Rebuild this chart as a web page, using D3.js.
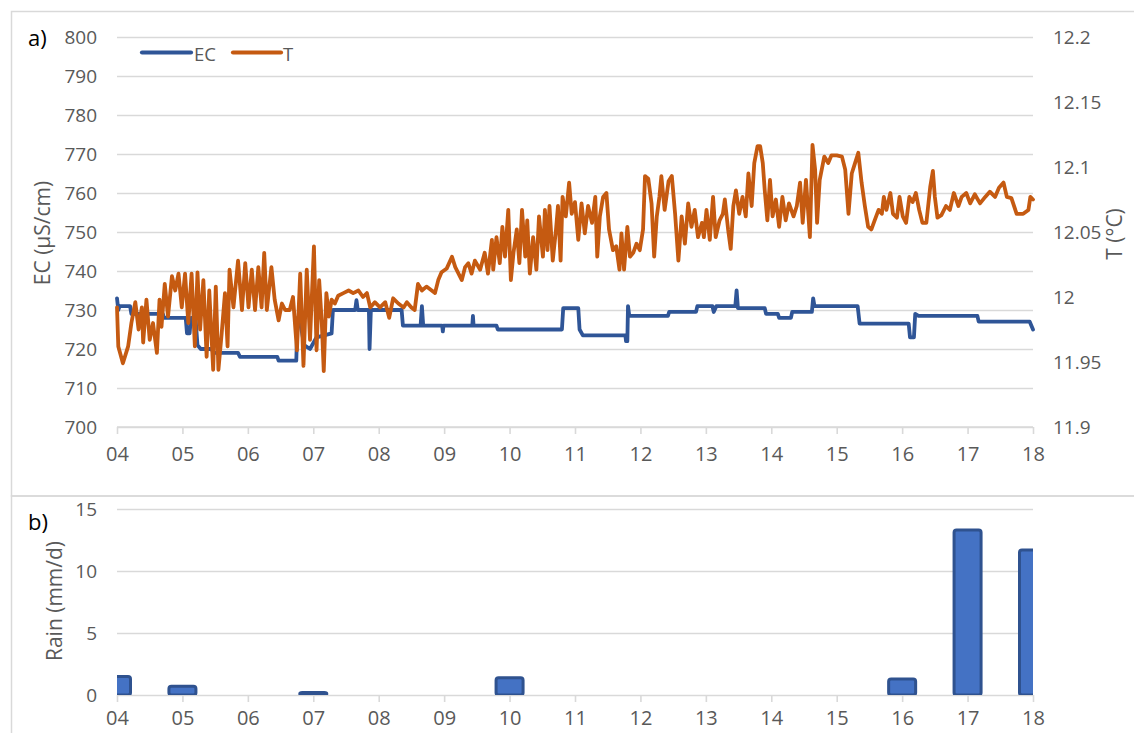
<!DOCTYPE html>
<html><head><meta charset="utf-8">
<script src="https://cdn.jsdelivr.net/npm/d3@7"></script>
<style>body{margin:0;background:#fff}svg{display:block}text{font-family:"Open Sans",sans-serif}</style>
</head><body><svg id="c" width="1134" height="733"></svg>
<script>
const dayTicks = [4,5,6,7,8,9,10,11,12,13,14,15,16,17,18];
const dayTickLabels = ["04","05","06","07","08","09","10","11","12","13","14","15","16","17","18"];
const ecTicks = [700,710,720,730,740,750,760,770,780,790,800];
const tTicks = [11.9,11.95,12,12.05,12.1,12.15,12.2];
const tTickLabels = ["11.9","11.95","12","12.05","12.1","12.15","12.2"];
const rainTicks = [0,5,10,15];

const ecSeries = [[4.00,733],[4.02,730],[4.04,731],[4.20,731],[4.22,729],[4.70,729],[4.72,728],[5.05,728],[5.07,724],[5.11,724],[5.13,728],[5.20,728],[5.23,721],[5.28,720],[5.45,720],[5.47,719],[5.85,719],[5.88,718],[6.45,718],[6.47,717],[6.74,717],[6.76,728],[6.80,727],[6.86,721],[6.95,720],[7.05,723],[7.28,724],[7.30,730],[7.64,730],[7.66,732.5],[7.68,730],[7.85,730],[7.86,720],[7.88,730],[8.35,730],[8.37,726],[8.64,726],[8.66,731],[8.68,726],[8.97,726],[8.98,724.5],[8.99,726],[9.43,726],[9.44,728.5],[9.45,726],[9.80,726],[9.82,725],[10.80,725],[10.82,730.5],[11.05,730.5],[11.07,725],[11.12,723.5],[11.77,723.5],[11.78,722],[11.80,722],[11.81,731],[11.83,728.5],[12.42,728.5],[12.44,729.5],[12.85,729.5],[12.87,731],[13.10,731],[13.12,729.5],[13.16,731],[13.45,731],[13.47,735],[13.49,730.5],[13.90,730.5],[13.92,729],[14.10,729],[14.12,728],[14.30,728],[14.32,729.5],[14.62,729.5],[14.64,733],[14.66,731],[15.32,731],[15.35,726.5],[16.10,726.5],[16.12,723],[16.18,723],[16.20,729],[16.25,728.5],[17.15,728.5],[17.17,727],[17.95,727],[18.00,725]];

const tSeries = [[4.00,11.992],[4.02,11.962],[4.09,11.949],[4.17,11.962],[4.22,11.980],[4.28,11.996],[4.33,11.975],[4.38,11.992],[4.40,11.965],[4.45,11.998],[4.50,11.967],[4.55,11.980],[4.61,11.957],[4.65,11.998],[4.68,11.977],[4.73,12.010],[4.78,11.985],[4.84,12.016],[4.89,12.005],[4.94,12.018],[4.99,11.992],[5.04,12.018],[5.09,11.980],[5.14,12.018],[5.19,11.962],[5.23,12.019],[5.27,11.975],[5.32,12.013],[5.37,11.954],[5.41,12.005],[5.47,11.944],[5.51,12.008],[5.55,11.944],[5.60,11.972],[5.65,12.003],[5.69,11.962],[5.72,12.021],[5.78,11.992],[5.85,12.028],[5.91,11.990],[5.96,12.026],[6.01,11.992],[6.06,12.021],[6.11,11.990],[6.16,12.023],[6.21,11.992],[6.25,12.034],[6.29,11.990],[6.36,12.023],[6.41,11.998],[6.47,11.982],[6.52,11.995],[6.57,11.990],[6.64,11.990],[6.69,12.000],[6.75,11.959],[6.80,12.018],[6.85,11.947],[6.90,12.021],[6.95,11.967],[7.01,12.039],[7.05,11.959],[7.09,12.013],[7.13,11.980],[7.16,11.943],[7.20,12.003],[7.24,11.985],[7.28,11.998],[7.33,11.995],[7.38,12.001],[7.46,12.003],[7.54,12.005],[7.61,12.003],[7.69,12.005],[7.76,12.000],[7.82,12.003],[7.87,11.992],[7.94,11.996],[8.02,11.992],[8.10,11.996],[8.16,11.984],[8.22,11.999],[8.30,11.995],[8.38,11.992],[8.43,11.996],[8.50,11.992],[8.55,11.990],[8.60,12.010],[8.66,12.005],[8.73,12.008],[8.81,12.005],[8.86,12.003],[8.91,12.013],[8.96,12.019],[9.04,12.022],[9.12,12.031],[9.17,12.023],[9.22,12.018],[9.27,12.013],[9.32,12.023],[9.37,12.026],[9.42,12.018],[9.47,12.028],[9.55,12.021],[9.62,12.034],[9.67,12.018],[9.73,12.044],[9.75,12.021],[9.80,12.046],[9.85,12.026],[9.89,12.054],[9.93,12.031],[9.98,12.067],[10.02,12.013],[10.06,12.034],[10.11,12.052],[10.15,12.026],[10.19,12.067],[10.24,12.031],[10.27,12.059],[10.31,12.018],[10.36,12.046],[10.41,12.021],[10.45,12.062],[10.51,12.031],[10.54,12.067],[10.58,12.036],[10.61,12.070],[10.66,12.028],[10.71,12.052],[10.74,12.070],[10.78,12.028],[10.81,12.077],[10.86,12.062],[10.91,12.088],[10.95,12.064],[11.00,12.073],[11.05,12.044],[11.10,12.072],[11.15,12.049],[11.20,12.070],[11.26,12.057],[11.31,12.077],[11.34,12.031],[11.38,12.062],[11.43,12.077],[11.48,12.080],[11.52,12.052],[11.58,12.036],[11.63,12.039],[11.68,12.021],[11.71,12.049],[11.75,12.021],[11.80,12.054],[11.84,12.031],[11.89,12.034],[11.94,12.041],[11.99,12.036],[12.04,12.052],[12.07,12.093],[12.12,12.091],[12.17,12.072],[12.21,12.031],[12.25,12.062],[12.29,12.077],[12.32,12.093],[12.37,12.067],[12.43,12.089],[12.48,12.093],[12.53,12.064],[12.58,12.028],[12.63,12.062],[12.68,12.041],[12.73,12.072],[12.78,12.054],[12.83,12.067],[12.88,12.046],[12.94,12.057],[12.97,12.046],[13.01,12.067],[13.06,12.044],[13.11,12.077],[13.15,12.046],[13.21,12.059],[13.26,12.064],[13.29,12.075],[13.34,12.052],[13.38,12.037],[13.42,12.070],[13.46,12.082],[13.51,12.064],[13.56,12.077],[13.61,12.062],[13.65,12.095],[13.70,12.070],[13.74,12.103],[13.79,12.116],[13.83,12.116],[13.87,12.103],[13.90,12.082],[13.94,12.059],[13.98,12.090],[14.02,12.062],[14.07,12.075],[14.12,12.054],[14.17,12.077],[14.22,12.059],[14.27,12.072],[14.34,12.062],[14.39,12.070],[14.44,12.088],[14.48,12.057],[14.53,12.090],[14.59,12.046],[14.63,12.117],[14.67,12.098],[14.70,12.057],[14.74,12.090],[14.81,12.108],[14.87,12.103],[14.92,12.109],[15.00,12.109],[15.08,12.108],[15.13,12.098],[15.18,12.064],[15.23,12.095],[15.28,12.103],[15.33,12.111],[15.38,12.088],[15.43,12.070],[15.48,12.054],[15.53,12.052],[15.58,12.059],[15.64,12.067],[15.69,12.064],[15.72,12.077],[15.76,12.067],[15.82,12.080],[15.86,12.064],[15.92,12.061],[15.96,12.077],[16.01,12.062],[16.06,12.057],[16.11,12.077],[16.16,12.073],[16.21,12.080],[16.26,12.067],[16.31,12.057],[16.37,12.057],[16.43,12.085],[16.47,12.097],[16.50,12.077],[16.54,12.061],[16.60,12.063],[16.67,12.070],[16.73,12.067],[16.79,12.080],[16.86,12.070],[16.91,12.077],[16.98,12.080],[17.04,12.072],[17.11,12.079],[17.19,12.072],[17.27,12.077],[17.34,12.081],[17.42,12.077],[17.48,12.084],[17.55,12.088],[17.60,12.077],[17.67,12.076],[17.75,12.064],[17.85,12.064],[17.93,12.067],[17.96,12.077],[18.00,12.075]];

const rainDays = [4,5,7,10,16,17,18];
const rainValues = [1.5,0.7,0.2,1.4,1.3,13.3,11.7];

const svg = d3.select("#c");
const L = 117, R = 1033;
const grey = "#595959", gridC = "#D9D9D9";
const x = d3.scaleLinear().domain([4,18]).range([L,R]);
const yEC = d3.scaleLinear().domain([700,800]).range([427,37]);
const yT = d3.scaleLinear().domain([11.9,12.2]).range([427,37]);
const yRain = d3.scaleLinear().domain([0,15]).range([695,509]);

// panel borders
svg.append("rect").attr("x",11.5).attr("y",11.5).attr("width",1200).attr("height",484.5)
  .attr("fill","none").attr("stroke",gridC).attr("stroke-width",1.5);
svg.append("rect").attr("x",11.5).attr("y",496).attr("width",1200).attr("height",300)
  .attr("fill","none").attr("stroke",gridC).attr("stroke-width",1.5);

function styleAxis(g){
  g.select(".domain").remove();
  g.selectAll("line").attr("stroke",gridC).attr("stroke-width",1.6);
  g.selectAll("text").attr("fill",grey).style("font-size","19px");
}

// ---- top panel ----
const gridTop = svg.append("g").attr("transform",`translate(${L},0)`)
  .call(d3.axisLeft(yEC).tickValues(ecTicks).tickSize(-(R-L)).tickPadding(20).tickFormat(d3.format("d")));
styleAxis(gridTop);

const rAx = svg.append("g").attr("transform",`translate(${R},0)`)
  .call(d3.axisRight(yT).tickValues(tTicks).tickSize(0).tickPadding(20).tickFormat((d,i)=>tTickLabels[i]));
styleAxis(rAx);

const xTop = svg.append("g").attr("transform","translate(0,427)")
  .call(d3.axisBottom(x).tickValues(dayTicks).tickSize(7).tickPadding(13).tickFormat((d,i)=>dayTickLabels[i]));
styleAxis(xTop);
xTop.selectAll("text").style("font-size","20px");
svg.append("line").attr("x1",L).attr("x2",R).attr("y1",427).attr("y2",427).attr("stroke",gridC).attr("stroke-width",1.6);

const ecLine = d3.line().x(d=>x(d[0])).y(d=>yEC(d[1]));
const tLine = d3.line().x(d=>x(d[0])).y(d=>yT(d[1]));
svg.append("path").datum(ecSeries).attr("d",ecLine).attr("fill","none")
  .attr("stroke","#2F5597").attr("stroke-width",3.8).attr("stroke-linejoin","round").attr("stroke-linecap","round");
svg.append("path").datum(tSeries).attr("d",tLine).attr("fill","none")
  .attr("stroke","#C55A11").attr("stroke-width",3.8).attr("stroke-linejoin","round").attr("stroke-linecap","round");

// legend
const leg = svg.append("g");
leg.append("line").attr("x1",142).attr("x2",191).attr("y1",52.5).attr("y2",52.5).attr("stroke","#2F5597").attr("stroke-width",4.2).attr("stroke-linecap","round");
leg.append("text").attr("x",194).attr("y",53.5).attr("dominant-baseline","central").attr("fill",grey).style("font-size","18.5px").text("EC");
leg.append("line").attr("x1",233).attr("x2",281).attr("y1",52.5).attr("y2",52.5).attr("stroke","#C55A11").attr("stroke-width",4.2).attr("stroke-linecap","round");
leg.append("text").attr("x",283).attr("y",53.5).attr("dominant-baseline","central").attr("fill",grey).style("font-size","18.5px").text("T");

svg.append("text").attr("x",28).attr("y",46).attr("fill","#000").style("font-size","22px").text("a)");
svg.append("text").attr("transform","translate(50,233) rotate(-90)").attr("text-anchor","middle")
  .attr("fill",grey).style("font-size","21px").text("EC (µS/cm)");
svg.append("text").attr("transform","translate(1122,234) rotate(-90)").attr("text-anchor","middle")
  .attr("fill",grey).style("font-size","21px").text("T (°C)");

// ---- bottom panel ----
const gridBot = svg.append("g").attr("transform",`translate(${L},0)`)
  .call(d3.axisLeft(yRain).tickValues(rainTicks).tickSize(-(R-L)).tickPadding(20));
styleAxis(gridBot);
const xBot = svg.append("g").attr("transform","translate(0,695)")
  .call(d3.axisBottom(x).tickValues(dayTicks).tickSize(7).tickPadding(9).tickFormat((d,i)=>dayTickLabels[i]));
styleAxis(xBot);
xBot.selectAll("text").style("font-size","20px");

svg.append("defs").append("clipPath").attr("id","clipB").append("rect")
  .attr("x",L).attr("y",490).attr("width",R-L).attr("height",205);
const bw = 27;
svg.append("g").attr("clip-path","url(#clipB)").selectAll("rect").data(rainDays).join("rect")
  .attr("x",d=>x(d)-bw/2).attr("width",bw)
  .attr("y",(d,i)=>yRain(rainValues[i])).attr("height",(d,i)=>yRain(0)-yRain(rainValues[i]))
  .attr("rx",2.5).attr("fill","#4472C4").attr("stroke","#2F528F").attr("stroke-width",3);

svg.append("text").attr("x",28).attr("y",530).attr("fill","#000").style("font-size","22px").text("b)");
svg.append("text").attr("transform","translate(62,601) rotate(-90)").attr("text-anchor","middle")
  .attr("fill",grey).style("font-size","21px").text("Rain (mm/d)");
</script></body></html>
